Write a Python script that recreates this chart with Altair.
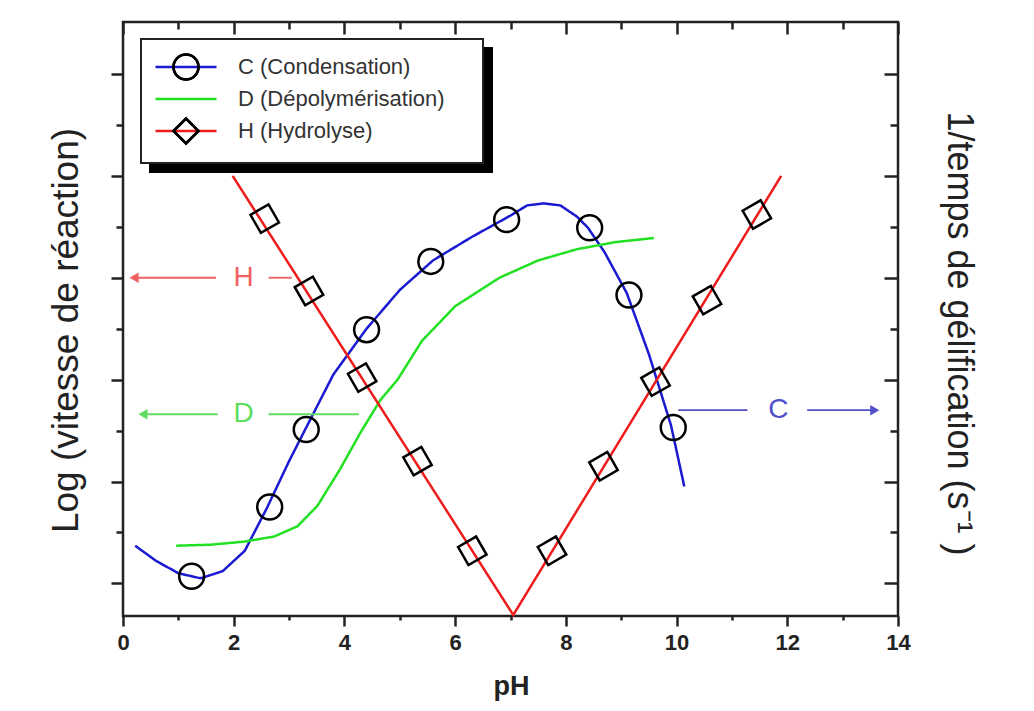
import altair as alt
import pandas as pd

FONT = "Liberation Sans"
INK = "#222222"

# ---------------- data ----------------
series_names = ["C (Condensation)", "D (Dépolymérisation)", "H (Hydrolyse)"]
series_colors = ["#1a1ad0", "#22e022", "#ee1c1c"]

C_line_x = [0.22, 0.6, 1.0, 1.4, 1.8, 2.2, 2.6, 3.0, 3.3, 3.8, 4.4, 5.0, 5.6, 6.3, 7.0, 7.3, 7.6, 7.9, 8.2, 8.4, 8.7, 9.1, 9.5, 9.9, 10.14]
C_line_y = [0.37, 0.22, 0.10, 0.05, 0.12, 0.32, 0.74, 1.20, 1.52, 2.05, 2.50, 2.88, 3.17, 3.40, 3.61, 3.71, 3.73, 3.71, 3.60, 3.49, 3.25, 2.85, 2.25, 1.55, 0.95]

D_line_x = [0.96, 1.59, 2.19, 2.73, 3.15, 3.51, 3.92, 4.29, 4.65, 4.96, 5.4, 6.0, 6.8, 7.5, 8.2, 8.9, 9.59]
D_line_y = [0.37, 0.38, 0.41, 0.46, 0.56, 0.76, 1.12, 1.48, 1.80, 2.00, 2.38, 2.72, 3.00, 3.17, 3.28, 3.35, 3.39]

H_line_x = [1.98, 7.05, 11.89]
H_line_y = [4.00, -0.31, 4.00]

C_pts_x = [1.24, 2.65, 3.31, 4.40, 5.56, 6.93, 8.43, 9.14, 9.94]
C_pts_y = [0.07, 0.75, 1.51, 2.49, 3.16, 3.57, 3.49, 2.83, 1.53]

H_pts_x = [2.56, 3.36, 4.32, 5.32, 6.31, 7.75, 8.68, 9.62, 10.55, 11.45]
H_pts_y = [3.58, 2.87, 2.02, 1.20, 0.32, 0.32, 1.15, 1.98, 2.78, 3.62]

# annotation arrows
arrow_keys = ["H", "D", "C"]
arrow_colors = ["#f06060", "#60dd60", "#5050cc"]
seg_key = ["H", "H", "D", "D", "C", "C"]
seg_x1 = [0.20, 2.63, 0.36, 2.63, 10.03, 12.36]
seg_x2 = [1.68, 3.05, 1.71, 4.26, 11.28, 13.58]
seg_y = [3.00, 3.00, 1.66, 1.66, 1.70, 1.70]
head_key = ["H", "D", "C"]
head_x = [0.20, 0.36, 13.58]
head_y = [3.00, 1.66, 1.70]
head_dir = ["left", "left", "right"]
lab_text = ["H", "D", "C"]
lab_x = [2.18, 2.18, 11.84]
lab_y = [3.00, 1.66, 1.70]

x_major = [0, 2, 4, 6, 8, 10, 12, 14]
x_minor = [1, 3, 5, 7, 9, 11, 13]
y_major = [0, 1, 2, 3, 4, 5]
y_minor = [0.5, 1.5, 2.5, 3.5, 4.5]

# ---------------- tables ----------------
rows = []
for name, xs, ys in zip(series_names, [C_line_x, D_line_x, H_line_x], [C_line_y, D_line_y, H_line_y]):
    for i, (a, b) in enumerate(zip(xs, ys)):
        rows.append({"series": name, "skey": name + " ", "x": a, "y": b, "i": i})
lines_df = pd.DataFrame(rows)

mk = [n + "  " for n in series_names]
c_df = pd.DataFrame({"x": C_pts_x, "y": C_pts_y, "mkey": mk[0]})
h_df = pd.DataFrame({"x": H_pts_x, "y": H_pts_y, "mkey": mk[2]})
seg_df = pd.DataFrame({"k": seg_key, "x1": seg_x1, "x2": seg_x2, "y": seg_y})
head_df = pd.DataFrame({"k": head_key, "x": head_x, "y": head_y, "d": head_dir})
lab_df = pd.DataFrame({"k": lab_text, "x": lab_x, "y": lab_y, "t": lab_text})

XS = alt.Scale(domain=[0, 14], nice=False, zero=False)
YS = alt.Scale(domain=[-0.32, 5.51], nice=False, zero=False)

common_tick = dict(tickWidth=2.5, tickColor=INK, domain=False, grid=False)

ax_bottom_major = alt.Axis(orient="bottom", values=x_major, tickSize=10, labelFont=FONT, labelFontSize=22,
                           labelFontWeight="bold", labelColor=INK, labelPadding=6, labelFlush=False,
                           labelOverlap=False, format="d",
                           title="pH", titleFont=FONT, titleFontSize=27, titleFontWeight="bold",
                           titleColor=INK, titleX=388, titleY=70, titleAlign="center",
                           titleBaseline="middle", **common_tick)
ax_bottom_minor = alt.Axis(orient="bottom", values=x_minor, tickSize=4, labels=False, title=None, **common_tick)
ax_top_major = alt.Axis(orient="top", values=x_major, tickSize=12, offset=-12, labels=False, title=None, **common_tick)
ax_top_minor = alt.Axis(orient="top", values=x_minor, tickSize=7, offset=-7, labels=False, title=None, **common_tick)

ax_left_major = alt.Axis(orient="left", values=y_major, tickSize=12, labels=False,
                         title="Log (vitesse de réaction)", titleFont=FONT, titleFontSize=37,
                         titleFontWeight="normal", titleColor=INK, titleAngle=270, titleX=-57, titleY=308,
                         titleAlign="center", titleBaseline="middle", **common_tick)
ax_left_minor = alt.Axis(orient="left", values=y_minor, tickSize=7, labels=False, title=None, **common_tick)
ax_right_major = alt.Axis(orient="right", values=y_major, tickSize=14, offset=-14, labels=False,
                          title="1/temps de gélification (s⁻¹ )", titleFont=FONT, titleFontSize=36,
                          titleFontWeight="normal", titleColor=INK, titleAngle=90, titleX=74, titleY=311,
                          titleAlign="center", titleBaseline="middle", **common_tick)
ax_right_minor = alt.Axis(orient="right", values=y_minor, tickSize=8, offset=-8, labels=False, title=None, **common_tick)

LX, LY = 18, 17
SYM = 625
leg_base = dict(orient="none", labelFont=FONT, labelFontSize=22, labelLimit=500, padding=14,
                symbolSize=SYM, symbolStrokeWidth=2.5, symbolOffset=17, rowPadding=-7)
line_symbol = "M-2.44,0H2.44M0,-1M0,1"
main_legend = alt.Legend(legendX=LX, legendY=LY, fillColor="white", strokeColor=INK, labelColor="#333333",
                         title="M", titleOrient="right", titleFontSize=20, titlePadding=7, titleOpacity=0,
                         labelExpr="trim(datum.label)", labelOffset=38,
                         symbolType=line_symbol, zindex=1, **leg_base)
shadow_legend = alt.Legend(legendX=LX + 9, legendY=LY + 9, fillColor="black", strokeColor="black",
                           title=None, labelExpr="''", labelOffset=269,
                           symbolType=line_symbol, symbolStrokeColor="black", zindex=0, **leg_base)
marker_legend = alt.Legend(legendX=LX, legendY=LY, title=None, labelExpr="''", labelOffset=38,
                           symbolStrokeColor="black", symbolFillColor="transparent", zindex=2, **leg_base)

shape_scale = alt.Scale(domain=mk, range=["circle", "M-1,-1M1,1", "diamond"])

lines = alt.Chart(lines_df).mark_line(strokeWidth=2.5).encode(
    x=alt.X("x:Q", scale=XS, axis=ax_bottom_major),
    y=alt.Y("y:Q", scale=YS, axis=ax_left_major),
    stroke=alt.Stroke("series:N", scale=alt.Scale(domain=series_names, range=series_colors), legend=main_legend),
    strokeDash=alt.StrokeDash("skey:N", scale=alt.Scale(domain=[n + " " for n in series_names],
                                                        range=[[1, 0], [1, 0], [1, 0]]), legend=shadow_legend),
    order="i:Q",
)

c_pts = alt.Chart(c_df).mark_point(filled=False, color="black", strokeWidth=2.5, size=620, opacity=1).encode(
    x=alt.X("x:Q", scale=XS, axis=ax_bottom_minor),
    y=alt.Y("y:Q", scale=YS, axis=ax_left_minor),
    shape=alt.Shape("mkey:N", scale=shape_scale, legend=marker_legend),
)

h_pts = alt.Chart(h_df).mark_point(filled=False, color="black", strokeWidth=2.5, size=870, angle=15, opacity=1).encode(
    x=alt.X("x:Q", scale=XS, axis=ax_top_major),
    y=alt.Y("y:Q", scale=YS, axis=ax_right_major),
    shape=alt.Shape("mkey:N", scale=shape_scale, legend=marker_legend),
)

arrow_scale = alt.Scale(domain=arrow_keys, range=arrow_colors)

segs = alt.Chart(seg_df).mark_rule(strokeWidth=1.8).encode(
    x=alt.X("x1:Q", scale=XS, axis=ax_top_minor),
    x2="x2:Q",
    y=alt.Y("y:Q", scale=YS, axis=ax_right_minor),
    color=alt.Color("k:N", scale=arrow_scale, legend=None),
)

heads = alt.Chart(head_df).mark_point(filled=True, size=110, opacity=1).encode(
    x=alt.X("x:Q", scale=XS, axis=None),
    y=alt.Y("y:Q", scale=YS, axis=None),
    color=alt.Color("k:N", scale=arrow_scale, legend=None),
    shape=alt.Shape("d:N", scale=alt.Scale(domain=["left", "right"], range=["triangle-left", "triangle-right"]), legend=None),
)

labs = alt.Chart(lab_df).mark_text(font=FONT, fontSize=28, baseline="middle", align="center").encode(
    x=alt.X("x:Q", scale=XS, axis=None),
    y=alt.Y("y:Q", scale=YS, axis=None),
    text="t:N",
    color=alt.Color("k:N", scale=arrow_scale, legend=None),
)

chart = alt.layer(lines, c_pts, h_pts, segs, heads, labs).resolve_axis(
    x="independent", y="independent"
).resolve_scale(shape="independent").properties(
    width=775, height=594,
    autosize=alt.AutoSizeParams(type="none"),
    padding={"left": 115, "top": 14, "right": 120, "bottom": 86},
    background="white",
).configure_view(stroke=INK, strokeWidth=2.5).configure_legend(strokeWidth=2)

chart.save("out.html", embed_options={"renderer": "svg", "actions": False})
